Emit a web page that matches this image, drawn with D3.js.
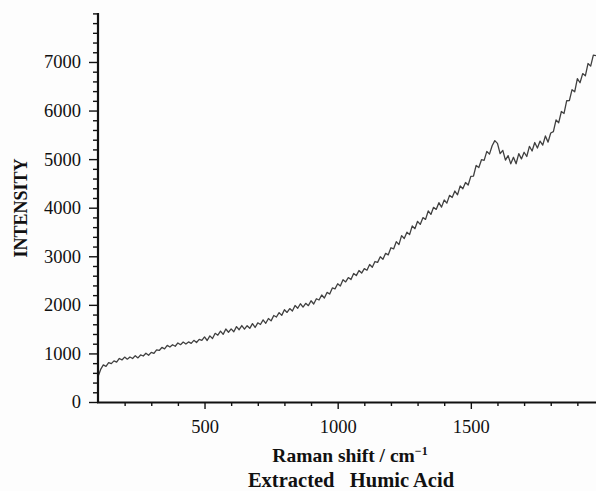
<!DOCTYPE html>
<html>
<head>
<meta charset="utf-8">
<script src="https://cdn.jsdelivr.net/npm/d3@7"></script>
<style>
body { margin:0; background:#fdfdfd; }
svg { display:block; }
.tick text { font-family:"Liberation Serif","Times New Roman",serif; font-size:18.5px; fill:#111; }
.title { font-family:"Liberation Serif","Times New Roman",serif; font-weight:bold; fill:#111; }
</style>
</head>
<body>
<svg id="chart"></svg>
<script>
// Raman spectrum, one reading every 10 cm-1
var shifts = [100,110,120,130,140,150,160,170,180,190,
    200,210,220,230,240,250,260,270,280,290,
    300,310,320,330,340,350,360,370,380,390,
    400,410,420,430,440,450,460,470,480,490,
    500,510,520,530,540,550,560,570,580,590,
    600,610,620,630,640,650,660,670,680,690,
    700,710,720,730,740,750,760,770,780,790,
    800,810,820,830,840,850,860,870,880,890,
    900,910,920,930,940,950,960,970,980,990,
    1000,1010,1020,1030,1040,1050,1060,1070,1080,1090,
    1100,1110,1120,1130,1140,1150,1160,1170,1180,1190,
    1200,1210,1220,1230,1240,1250,1260,1270,1280,1290,
    1300,1310,1320,1330,1340,1350,1360,1370,1380,1390,
    1400,1410,1420,1430,1440,1450,1460,1470,1480,1490,
    1500,1510,1520,1530,1540,1550,1560,1570,1580,1590,
    1600,1610,1620,1630,1640,1650,1660,1670,1680,1690,
    1700,1710,1720,1730,1740,1750,1760,1770,1780,1790,
    1800,1810,1820,1830,1840,1850,1860,1870,1880,1890,
    1900,1910,1920,1930,1940,1950,1960,1970]

var intensity = [520,671,763,735,812,789,847,822,896,866,
    925,882,926,895,954,908,968,947,1004,962,
    1022,1000,1074,1061,1123,1095,1166,1132,1179,1148,
    1216,1180,1234,1192,1237,1207,1269,1226,1288,1269,
    1340,1266,1362,1308,1414,1375,1459,1393,1502,1436,
    1505,1446,1552,1488,1574,1500,1571,1517,1613,1534,
    1630,1595,1690,1620,1720,1670,1782,1749,1841,1783,
    1900,1844,1923,1872,1986,1930,2022,1954,2031,1983,
    2085,2018,2126,2099,2202,2140,2256,2222,2348,2329,
    2435,2389,2518,2472,2561,2520,2646,2602,2708,2654,
    2745,2713,2831,2774,2892,2875,2990,2940,3060,3030,
    3176,3151,3301,3241,3426,3366,3497,3446,3626,3568,
    3720,3656,3795,3759,3933,3862,4008,3965,4104,4012,
    4158,4094,4254,4211,4343,4265,4450,4390,4519,4466,
    4644,4652,4870,4827,4988,4973,5160,5102,5274,5380,
    5324,5112,5181,4980,5072,4903,5039,4905,5113,5005,
    5141,5054,5264,5168,5342,5228,5371,5289,5477,5350,
    5538,5565,5806,5750,5980,5940,6202,6203,6429,6385,
    6656,6572,6761,6716,6968,6914,7140,7130]

var xMajor = [500,1000,1500]
var xMinor = [200,300,400,600,700,800,900,1100,1200,1300,1400,1600,1700,1800,1900]
var yMajor = [0,1000,2000,3000,4000,5000,6000,7000]
var yMinor = [200,400,600,800,1200,1400,1600,1800,2200,2400,2600,2800,3200,3400,3600,3800,
    4200,4400,4600,4800,5200,5400,5600,5800,6200,6400,6600,6800,7200,7400,7600,7800,8000]

var drawSpectrum = function()
{
    var width = 596;
    var height = 491;

    var svg = d3.select("#chart")
        .attr("width",width)
        .attr("height",height)

    var xScale = d3.scaleLinear()
        .domain([100,1970])
        .range([98,596])

    var yScale = d3.scaleLinear()
        .domain([0,8000])
        .range([402,13.4])

    var points = shifts.map(function(s,i){return [s,intensity[i]]})

    var line = d3.line()
        .x(function(d){return xScale(d[0])})
        .y(function(d){return yScale(d[1])})

    svg.append("path")
        .datum(points)
        .attr("d",line)
        .attr("fill","none")
        .attr("stroke","#404040")
        .attr("stroke-width",1.3)
        .attr("stroke-linejoin","round")

    // minor ticks first, majors carry the labels
    svg.append("g")
        .attr("transform","translate(0,402)")
        .call(d3.axisBottom(xScale).tickValues(xMinor).tickSize(4).tickFormat(""))
    svg.append("g")
        .attr("transform","translate(0,402)")
        .call(d3.axisBottom(xScale).tickValues(xMajor).tickSize(7).tickPadding(11).tickFormat(d3.format("d")))

    svg.append("g")
        .attr("transform","translate(98,0)")
        .call(d3.axisLeft(yScale).tickValues(yMinor).tickSize(5).tickFormat(""))
    svg.append("g")
        .attr("transform","translate(98,0)")
        .call(d3.axisLeft(yScale).tickValues(yMajor).tickSize(9).tickPadding(8).tickFormat(d3.format("d")))

    svg.selectAll(".domain").remove()
    svg.selectAll(".tick line")
        .attr("stroke","#111")
        .attr("stroke-width",1.4)

    // heavy axis lines
    svg.append("line")
        .attr("x1",98).attr("x2",98)
        .attr("y1",13).attr("y2",403)
        .attr("stroke","#111").attr("stroke-width",2.2)
    svg.append("line")
        .attr("x1",97).attr("x2",596)
        .attr("y1",402.5).attr("y2",402.5)
        .attr("stroke","#111").attr("stroke-width",2.2)

    svg.append("text")
        .classed("title",true)
        .attr("text-anchor","middle")
        .attr("transform","translate(27,208) rotate(-90)")
        .style("font-size","18px")
        .text("INTENSITY")

    var xt = svg.append("text")
        .classed("title",true)
        .attr("text-anchor","middle")
        .attr("x",350)
        .attr("y",462)
        .style("font-size","19.5px")
    xt.append("tspan").text("Raman shift / cm")
    xt.append("tspan").attr("dy",-7).style("font-size","12px").text("\u22121")

    svg.append("text")
        .classed("title",true)
        .attr("text-anchor","middle")
        .attr("x",351)
        .attr("y",487)
        .style("font-size","20.5px")
        .style("white-space","pre")
        .attr("xml:space","preserve")
        .text("Extracted   Humic Acid")
}

drawSpectrum()
</script>
</body>
</html>
